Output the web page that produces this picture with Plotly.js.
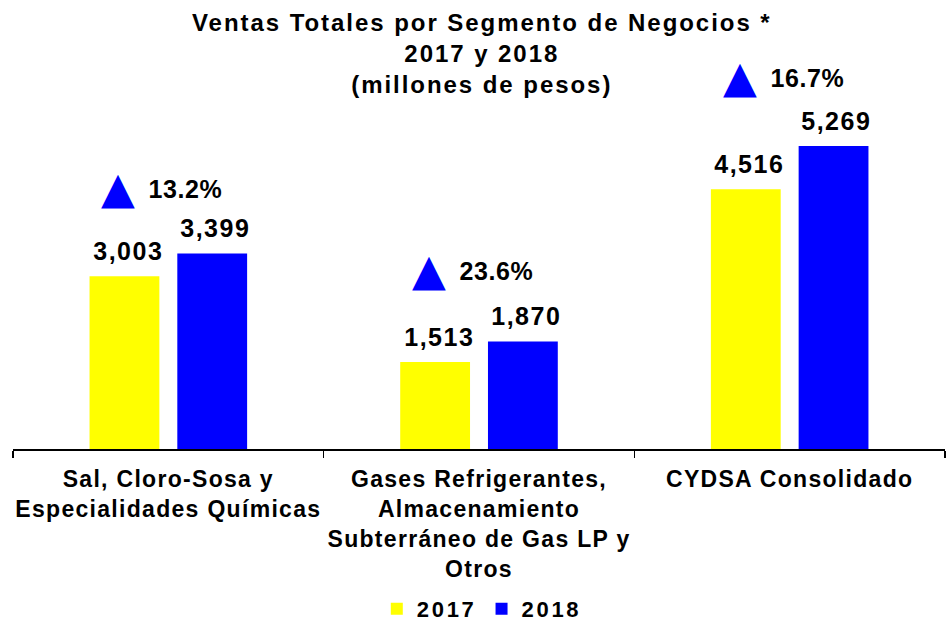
<!DOCTYPE html>
<html>
<head>
<meta charset="utf-8">
<script src="https://cdn.plot.ly/plotly-3.0.1.min.js"></script>
<style>
html,body{margin:0;padding:0;background:#fff;}
#chart{width:948px;height:624px;}
.gtitle{letter-spacing:1.95px;}
.xtick text{letter-spacing:1.3px;}
.legendtext{letter-spacing:2.7px;}
.annotation-text.barlbl{letter-spacing:1.5px;}
.annotation-text.pctlbl{letter-spacing:0.6px;}
</style>
</head>
<body>
<div id="chart"></div>
<script>
const categories = [
  "Sal, Cloro-Sosa y<br>Especialidades Químicas",
  "Gases Refrigerantes,<br>Almacenamiento<br>Subterráneo de Gas LP y<br>Otros",
  "CYDSA Consolidado"
];
const sales2017 = [3003, 1513, 4516];
const sales2018 = [3399, 1870, 5269];
const arrowY = [4540, 3120, 6470];
const seriesNames = ["2017", "2018"];

const FONT = "Liberation Sans, Arial, sans-serif";
const growth = sales2018.map((v, i) => ((v / sales2017[i] - 1) * 100).toFixed(1) + "%");
const fmt = v => v.toLocaleString("en-US");

const traces = [
  {
    type: "bar", name: seriesNames[0], x: categories, y: sales2017,
    marker: {color: "#FFFF00"}, hoverinfo: "skip"
  },
  {
    type: "bar", name: seriesNames[1], x: categories, y: sales2018,
    marker: {color: "#0000FF"}, hoverinfo: "skip"
  }
];

const annotations = [];
categories.forEach((c, i) => {
  annotations.push({
    x: c, y: sales2017[i], xref: "x", yref: "y", text: fmt(sales2017[i]), showarrow: false,
    xshift: -40, yshift: 9, yanchor: "bottom", xanchor: "center",
    font: {family: FONT, size: 25, color: "#000", weight: "bold"}
  });
  annotations.push({
    x: c, y: sales2018[i], xref: "x", yref: "y", text: fmt(sales2018[i]), showarrow: false,
    xshift: 47, yshift: 9, yanchor: "bottom", xanchor: "center",
    font: {family: FONT, size: 25, color: "#000", weight: "bold"}
  });
  annotations.push({
    x: c, y: arrowY[i], xref: "x", yref: "y", text: "▲", showarrow: false,
    xshift: -50, yanchor: "middle", xanchor: "center",
    font: {family: "DejaVu Sans", size: 44, color: "#0000FF"}
  });
  annotations.push({
    x: c, y: arrowY[i], xref: "x", yref: "y", text: growth[i], showarrow: false,
    xshift: -20, yshift: -1, yanchor: "middle", xanchor: "left",
    font: {family: FONT, size: 25, color: "#000", weight: "bold"}
  });
});

const layout = {
  width: 948, height: 624,
  margin: {l: 13, r: 3, t: 40, b: 175},
  paper_bgcolor: "#fff", plot_bgcolor: "#fff",
  barmode: "group", bargap: 0.435, bargroupgap: 0.2045,
  title: {
    text: "Ventas Totales por Segmento de Negocios *<br>2017 y 2018<br>(millones de pesos)",
    x: 0.503, xref: "paper", xanchor: "center",
    y: 1 - 31 / 624, yref: "container", yanchor: "top",
    font: {family: FONT, size: 24, color: "#000", weight: "bold"}
  },
  xaxis: {
    type: "category", showline: true, linecolor: "#000", linewidth: 1.5,
    ticks: "outside", tickson: "boundaries", ticklen: 7, tickcolor: "#000", tickwidth: 1.5,
    ticklabelstandoff: 9,
    tickfont: {family: FONT, size: 23, color: "#000", weight: "bold"},
    showgrid: false, zeroline: false, fixedrange: true
  },
  yaxis: {
    range: [0, 7110], visible: false, showgrid: false, zeroline: false, fixedrange: true
  },
  showlegend: true,
  legend: {
    orientation: "h", x: 0.503, xanchor: "center", y: 1 - 609 / 624, yref: "container", yanchor: "middle",
    font: {family: FONT, size: 22, color: "#000", weight: "bold"},
    itemwidth: 30, traceorder: "normal"
  },
  annotations: annotations
};

Plotly.newPlot("chart", traces, layout, {displayModeBar: false, staticPlot: true}).then(gd => {
  const texts = gd.querySelectorAll(".annotation-text");
  texts.forEach((t, k) => {
    if (k % 4 < 2) t.classList.add("barlbl");
    else if (k % 4 === 3) t.classList.add("pctlbl");
  });
});
</script>
</body>
</html>
